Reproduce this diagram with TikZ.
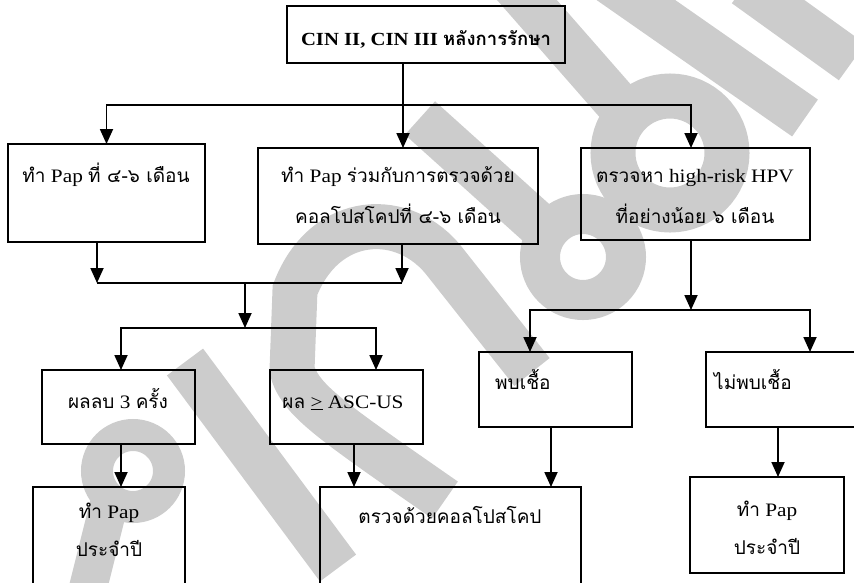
\documentclass[tikz,border=0pt]{standalone}
\usepackage{fontspec}
\setmainfont{Liberation Serif}[FakeStretch=1.12]
\newfontfamily\thaifont{Loma}[Script=Thai]
\usetikzlibrary{arrows.meta,positioning}

\newcommand{\thw}[1]{{\thaifont #1}}

\tikzset{
  box/.style = {draw, line width=1.8pt, anchor=north west, inner sep=0pt, outer sep=0pt},
  txt/.style = {anchor=base, inner sep=0pt, align=center, font=\fontsize{19}{41}\selectfont},
  link/.style = {line width=1.8pt},
  arrow/.style = {link, -{Triangle[width=13pt,length=15pt]}},
  wm/.style = {draw=black!20, line width=45pt},
}

\begin{document}
\begin{tikzpicture}[x=1pt,y=-1pt]
  \useasboundingbox (0,0) rectangle (854,582);
  \clip (0,0) rectangle (854,582);

  % watermark
  \draw[wm] (745,-15) -- (852,62);
  \draw[wm] (600,-25) -- (805,118);
  \draw[wm] (505,-25) -- (625,112);
  \draw[wm] (670,153) circle[radius=57pt];
  \draw[wm] (420,118) -- (550,235);
  \draw[wm, line width=40pt] (583,257) circle[radius=43pt];
  \draw[wm] (532,372) -- (445,262) .. controls (405,210) and (325,212) .. (295,290)
     -- (292,370) .. controls (300,400) and (330,420) .. (445,500);
  \draw[wm] (185,362) -- (338,568);
  \draw[wm, line width=32pt] (133,471) circle[radius=36pt];
  \draw[wm, line width=38pt] (110,500) -- (85,600);

  % boxes
  \node[box, minimum width=278pt, minimum height=57pt] (top) at (287,6) {};
  \node[box, minimum width=197pt, minimum height=98pt] (b1) at (8,144) {};
  \node[box, minimum width=280pt, minimum height=96pt] (b2) at (258,148) {};
  \node[box, minimum width=229pt, minimum height=92pt] (b3) at (581,148) {};
  \node[box, minimum width=153pt, minimum height=74pt] (b4) at (42,370) {};
  \node[box, minimum width=153pt, minimum height=74pt] (b5) at (270,370) {};
  \node[box, minimum width=153pt, minimum height=75pt] (b6) at (479,352) {};
  \node[box, minimum width=154pt, minimum height=75pt] (b9) at (706,352) {};
  \node[box, minimum width=152pt, minimum height=100pt] (b7) at (33,487) {};
  \node[box, minimum width=261pt, minimum height=100pt] (b8) at (320,487) {};
  \node[box, minimum width=154pt, minimum height=96pt] (b10) at (690,477) {};

  % texts
  \node[txt, font=\fontsize{18.5}{22}\bfseries] (ttop) at (426,45) {CIN II, CIN III \thw{หลังการรักษา}};
  \node[txt] (t1) at (106,182) {\thw{ทำ} Pap \thw{ที่ ๔-๖ เดือน}};
  \node[txt] (t2) at (398,223) {\thw{ทำ} Pap \thw{ร่วมกับการตรวจด้วย}\\ \thw{คอลโปสโคปที่ ๔-๖ เดือน}};
  \node[txt] (t3) at (695,223) {\thw{ตรวจหา} high-risk HPV\\ \thw{ที่อย่างน้อย ๖ เดือน}};
  \node[txt] (t4) at (118,408) {\thw{ผลลบ} 3 \thw{ครั้ง}};
  \node[txt] (t5) at (343,408) {\thw{ผล} \underline{>} ASC-US};
  \node[txt, anchor=base west] (t6) at (495,389) {\thw{พบเชื้อ}};
  \node[txt, anchor=base west] (t9) at (714,389) {\thw{ไม่พบเชื้อ}};
  \node[txt, font=\fontsize{19}{38}\selectfont] (t7) at (109,556) {\thw{ทำ} Pap\\ \thw{ประจำปี}};
  \node[txt] (t8) at (450,523) {\thw{ตรวจด้วยคอลโปสโคป}};
  \node[txt, font=\fontsize{19}{38}\selectfont] (t10) at (767,554) {\thw{ทำ} Pap\\ \thw{ประจำปี}};

  % connectors
  \coordinate (s1) at (403,105);
  \draw[link] ([xshift=-23pt]top.south) -- (s1);
  \draw[arrow] (s1) -| (b1.north);
  \draw[arrow] (s1) -- ([xshift=5pt]b2.north);
  \draw[arrow] (s1) -| ([xshift=-4.5pt]b3.north);

  \coordinate (m1) at (245,283);
  \coordinate (s2) at (245,328);
  \draw[arrow] ([xshift=-9.5pt]b1.south) -- ([xshift=-9.5pt]b1.south |- m1);
  \draw[arrow] ([xshift=4pt]b2.south) -- ([xshift=4pt]b2.south |- m1);
  \draw[link] ([xshift=-9.5pt]b1.south |- m1) -- ([xshift=4pt]b2.south |- m1);
  \draw[arrow] (m1) -- (s2);
  \draw[arrow] (s2) -| ([xshift=2.5pt]b4.north);
  \draw[arrow] (s2) -| ([xshift=29.5pt]b5.north);
  \draw[arrow] ([xshift=2.5pt]b4.south) -- ([xshift=2.5pt]b4.south |- b7.north);
  \draw[arrow] ([xshift=7.5pt]b5.south) -- ([xshift=7.5pt]b5.south |- b8.north);

  \coordinate (s3) at (691,310);
  \draw[arrow] ([xshift=-4.5pt]b3.south) -- (s3);
  \draw[arrow] (s3) -| ([xshift=-25.5pt]b6.north);
  \draw[arrow] (s3) -| ([xshift=27pt]b9.north);
  \draw[arrow] ([xshift=-4.5pt]b6.south) -- ([xshift=-4.5pt]b6.south |- b8.north);
  \draw[arrow] ([xshift=-5pt]b9.south) -- ([xshift=-5pt]b9.south |- b10.north);
\end{tikzpicture}
\end{document}
